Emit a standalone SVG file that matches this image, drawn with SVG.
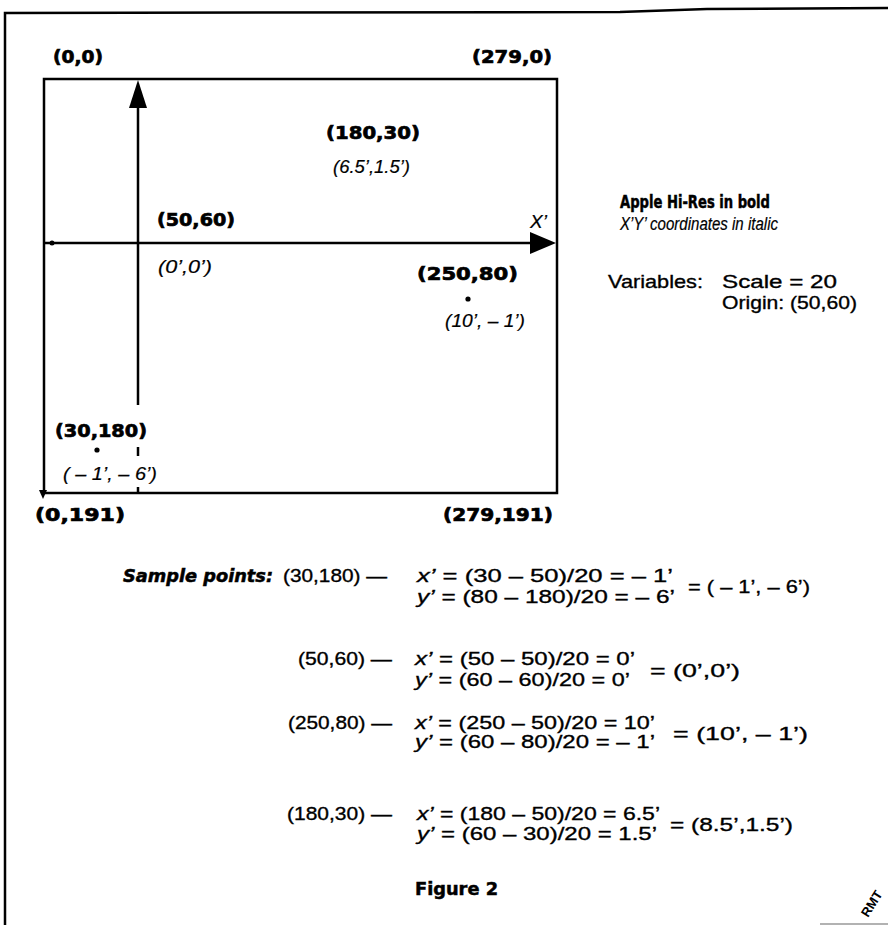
<svg xmlns="http://www.w3.org/2000/svg" width="888" height="925" viewBox="0 0 888 925">
<style>
.b{font-family:"DejaVu Sans","Liberation Sans",sans-serif;font-weight:bold;font-size:18px;fill:#000;stroke:#000;stroke-width:0.7}
.i{font-family:"Liberation Sans",Arial,sans-serif;font-style:italic;font-size:18px;fill:#000;stroke:#000;stroke-width:0.2}
.r{font-family:"Liberation Sans",Arial,sans-serif;font-size:19px;fill:#000;stroke:#000;stroke-width:0.35}
.ln{stroke:#000;stroke-width:2.5;fill:none}
</style>
<rect width="888" height="925" fill="#fff"/>
<g id="frame">
<polyline class="ln" points="5,925 5,13 620,12 707,9 888,8"/>
<line x1="820" y1="924" x2="888" y2="924" stroke="#999" stroke-width="1.5"/>
<text x="868" y="918" transform="rotate(-58 868 918)" style="font-family:'Liberation Sans',sans-serif;font-weight:bold;font-size:13px">RMT</text>
</g>
<g id="screen">
<rect x="44" y="79" width="513" height="414" class="ln" stroke-width="3"/>
<polygon points="43,499 39,490 47,490" fill="#000"/>
</g>
<g id="connectors">
<line class="ln" x1="138" y1="105" x2="138" y2="405"/>
<polygon points="138,80 129,108 147,108" fill="#000"/>
<line class="ln" x1="138" y1="447" x2="138" y2="456"/>
<line class="ln" x1="138" y1="487" x2="138" y2="493"/>
<line class="ln" x1="44" y1="243" x2="533" y2="243"/>
<circle cx="52" cy="243" r="2.5" fill="#000"/>
<polygon points="556,243 530,232 530,254" fill="#000"/>
</g>
<g id="corner-labels">
<text class="b" x="53" y="63" textLength="50" lengthAdjust="spacingAndGlyphs">(0,0)</text>
<text class="b" x="472" y="63" textLength="80" lengthAdjust="spacingAndGlyphs">(279,0)</text>
<text class="b" x="35" y="521" textLength="90" lengthAdjust="spacingAndGlyphs">(0,191)</text>
<text class="b" x="443" y="521" textLength="110" lengthAdjust="spacingAndGlyphs">(279,191)</text>
</g>
<g id="point-180-30">
<text class="b" x="326" y="139" textLength="94" lengthAdjust="spacingAndGlyphs">(180,30)</text>
<text class="i" x="333" y="173" textLength="77" lengthAdjust="spacingAndGlyphs">(6.5’,1.5’)</text>
</g>
<g id="point-50-60">
<text class="b" x="157" y="226" textLength="78" lengthAdjust="spacingAndGlyphs">(50,60)</text>
<text class="i" x="158" y="273" textLength="54" lengthAdjust="spacingAndGlyphs">(0’,0’)</text>
</g>
<g id="axis-label">
<text class="i" x="530" y="228" style="font-size:19px">X’</text>
</g>
<g id="point-250-80">
<text class="b" x="417" y="280" textLength="101" lengthAdjust="spacingAndGlyphs">(250,80)</text>
<circle cx="468" cy="299" r="2.6" fill="#000"/>
<text class="i" x="445" y="327" textLength="80" lengthAdjust="spacingAndGlyphs">(10’, – 1’)</text>
</g>
<g id="point-30-180">
<text class="b" x="55" y="437" textLength="92" lengthAdjust="spacingAndGlyphs">(30,180)</text>
<circle cx="97" cy="450" r="2.6" fill="#000"/>
<text class="i" x="63" y="480" textLength="94" lengthAdjust="spacingAndGlyphs">( – 1’, – 6’)</text>
</g>
<g id="legend">
<text x="620" y="208" style="font-family:'DejaVu Sans',sans-serif;font-weight:bold;font-size:17px;stroke:#000;stroke-width:0.5" textLength="150" lengthAdjust="spacingAndGlyphs">Apple Hi-Res in bold</text>
<text class="i" x="620" y="230" style="font-size:18px" textLength="158" lengthAdjust="spacingAndGlyphs">X’Y’ coordinates in italic</text>
<text class="r" x="608" y="288" textLength="95" lengthAdjust="spacingAndGlyphs">Variables:</text>
<text class="r" x="722" y="288" textLength="115" lengthAdjust="spacingAndGlyphs">Scale  =  20</text>
<text class="r" x="722" y="309" textLength="135" lengthAdjust="spacingAndGlyphs">Origin: (50,60)</text>
</g>
<g id="samples">
<text x="123" y="582" style="font-family:'DejaVu Sans',sans-serif;font-weight:bold;font-style:italic;font-size:17px;stroke:#000;stroke-width:0.5" textLength="150" lengthAdjust="spacingAndGlyphs">Sample points:</text>
<text class="r" x="283" y="582" textLength="104" lengthAdjust="spacingAndGlyphs">(30,180) —</text>
<text class="r" x="417" y="582" textLength="256" lengthAdjust="spacingAndGlyphs"><tspan font-style="italic">x’</tspan> = (30 –  50)/20 =  – 1’</text>
<text class="r" x="417" y="603" textLength="258" lengthAdjust="spacingAndGlyphs"><tspan font-style="italic">y’</tspan> = (80 – 180)/20 =  – 6’</text>
<text class="r" x="688" y="593" textLength="122" lengthAdjust="spacingAndGlyphs">= ( – 1’, – 6’)</text>

<text class="r" x="298" y="665" textLength="94" lengthAdjust="spacingAndGlyphs">(50,60) —</text>
<text class="r" x="415" y="665" textLength="220" lengthAdjust="spacingAndGlyphs"><tspan font-style="italic">x’</tspan> = (50 – 50)/20 = 0’</text>
<text class="r" x="415" y="686" textLength="215" lengthAdjust="spacingAndGlyphs"><tspan font-style="italic">y’</tspan> = (60 – 60)/20 = 0’</text>
<text class="r" x="650" y="677" textLength="90" lengthAdjust="spacingAndGlyphs">= (0’,0’)</text>

<text class="r" x="288" y="729" textLength="104" lengthAdjust="spacingAndGlyphs">(250,80) —</text>
<text class="r" x="415" y="729" textLength="240" lengthAdjust="spacingAndGlyphs"><tspan font-style="italic">x’</tspan> = (250 – 50)/20 = 10’</text>
<text class="r" x="415" y="748" textLength="240" lengthAdjust="spacingAndGlyphs"><tspan font-style="italic">y’</tspan> = (60 – 80)/20 = – 1’</text>
<text class="r" x="673" y="740" textLength="135" lengthAdjust="spacingAndGlyphs">= (10’, – 1’)</text>

<text class="r" x="287" y="820" textLength="105" lengthAdjust="spacingAndGlyphs">(180,30) —</text>
<text class="r" x="417" y="820" textLength="243" lengthAdjust="spacingAndGlyphs"><tspan font-style="italic">x’</tspan> = (180 – 50)/20 = 6.5’</text>
<text class="r" x="417" y="840" textLength="240" lengthAdjust="spacingAndGlyphs"><tspan font-style="italic">y’</tspan> = (60 – 30)/20 = 1.5’</text>
<text class="r" x="670" y="831" textLength="123" lengthAdjust="spacingAndGlyphs">= (8.5’,1.5’)</text>
</g>
<g id="caption">
<text x="415" y="895" style="font-family:'DejaVu Sans',sans-serif;font-weight:bold;font-size:17px;stroke:#000;stroke-width:0.5" textLength="83" lengthAdjust="spacingAndGlyphs">Figure 2</text>
</g>
</svg>
